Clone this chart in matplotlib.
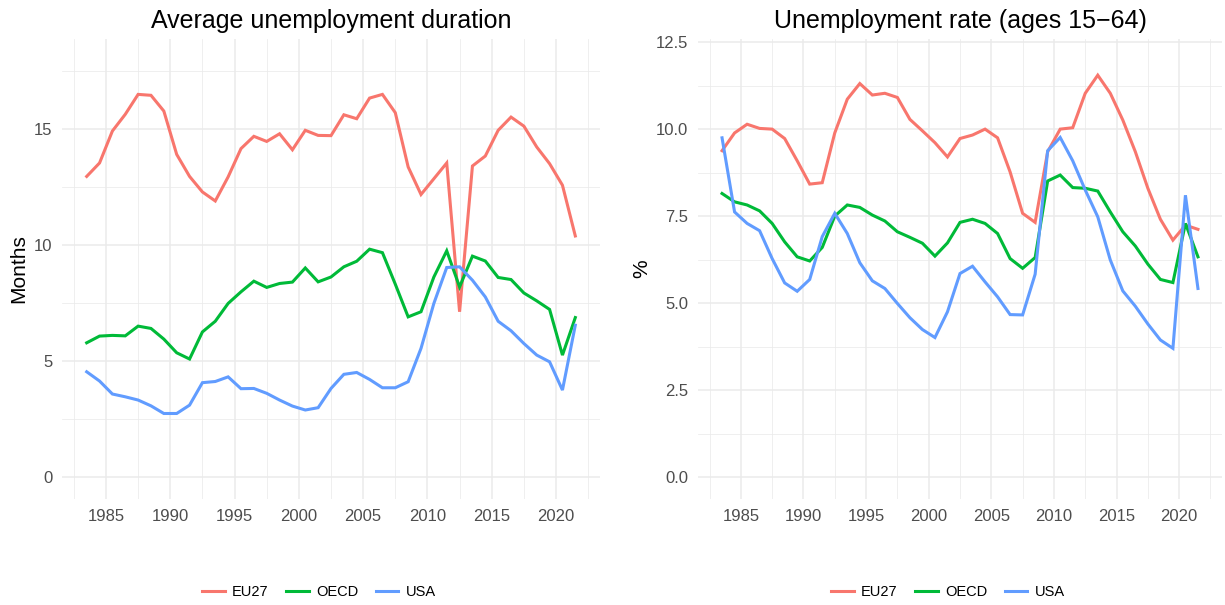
"""
Unemployment duration and rate: EU27 vs OECD vs USA
"""
import matplotlib
matplotlib.use('Agg')
import matplotlib.pyplot as plt
from matplotlib.ticker import MultipleLocator
from matplotlib.lines import Line2D

plt.rcParams['font.family'] = ['Liberation Sans', 'DejaVu Sans']

# Years (points are drawn at mid-year)
years = list(range(1983, 2022))

# Average unemployment duration, months
dur_eu27 = [12.97, 13.55, 14.93, 15.65, 16.51, 16.47, 15.79, 13.92, 12.97, 12.30,
            11.91, 12.95, 14.17, 14.70, 14.48, 14.81, 14.12, 14.96, 14.74, 14.73,
            15.63, 15.46, 16.35, 16.51, 15.72, 13.38, 12.19, 12.87, 13.55, 7.13,
            13.42, 13.85, 14.96, 15.53, 15.14, 14.24, 13.52, 12.59, 10.40]
dur_oecd = [5.79, 6.08, 6.11, 6.09, 6.51, 6.41, 5.95, 5.36, 5.09, 6.26,
            6.72, 7.49, 7.99, 8.45, 8.18, 8.35, 8.41, 9.02, 8.42, 8.63,
            9.07, 9.31, 9.83, 9.68, 8.32, 6.91, 7.13, 8.63, 9.76, 8.20,
            9.53, 9.32, 8.61, 8.52, 7.94, 7.60, 7.23, 5.26, 6.88]
dur_usa = [4.54, 4.14, 3.58, 3.46, 3.32, 3.07, 2.74, 2.74, 3.10, 4.07,
           4.12, 4.32, 3.81, 3.82, 3.61, 3.32, 3.06, 2.89, 2.99, 3.82,
           4.43, 4.51, 4.21, 3.85, 3.85, 4.11, 5.55, 7.49, 9.04, 9.07,
           8.49, 7.77, 6.72, 6.31, 5.76, 5.26, 4.97, 3.75, 6.55]

# Unemployment rate (ages 15-64), %
rate_eu27 = [9.38, 9.89, 10.14, 10.02, 10.00, 9.73, 9.09, 8.42, 8.46, 9.89,
             10.86, 11.31, 10.98, 11.03, 10.91, 10.28, 9.95, 9.61, 9.20, 9.73,
             9.83, 10.00, 9.75, 8.77, 7.58, 7.32, 9.35, 10.00, 10.04, 11.03,
             11.55, 11.03, 10.26, 9.35, 8.30, 7.41, 6.81, 7.24, 7.12]
rate_oecd = [8.15, 7.91, 7.82, 7.65, 7.29, 6.76, 6.33, 6.21, 6.60, 7.50,
             7.82, 7.75, 7.53, 7.36, 7.05, 6.89, 6.72, 6.35, 6.73, 7.32,
             7.41, 7.29, 7.00, 6.28, 6.00, 6.31, 8.51, 8.68, 8.32, 8.30,
             8.22, 7.62, 7.05, 6.64, 6.12, 5.68, 5.59, 7.29, 6.33]
rate_usa = [9.75, 7.62, 7.29, 7.08, 6.28, 5.58, 5.34, 5.68, 6.91, 7.58,
            7.00, 6.16, 5.64, 5.42, 4.99, 4.58, 4.24, 4.01, 4.75, 5.85,
            6.06, 5.61, 5.18, 4.67, 4.66, 5.83, 9.38, 9.76, 9.09, 8.25,
            7.48, 6.24, 5.35, 4.91, 4.40, 3.94, 3.70, 8.10, 5.42]

series_names = ['EU27', 'OECD', 'USA']
colors = ['#F8766D', '#00BA38', '#619CFF']

W, H = 1225, 605
fig = plt.figure(figsize=(W / 100, H / 100), dpi=100)


def px_axes(x0, y0, x1, y1):
    return fig.add_axes([x0 / W, 1 - y1 / H, (x1 - x0) / W, (y1 - y0) / H])


def style_axes(ax, ymajor, yminor, ylim, fmt):
    ax.set_facecolor('white')
    for s in ax.spines.values():
        s.set_visible(False)
    ax.set_xlim(1981.58, 2023.42)
    ax.set_ylim(*ylim)
    ax.xaxis.set_major_locator(MultipleLocator(5))
    ax.xaxis.set_minor_locator(MultipleLocator(2.5))
    ax.yaxis.set_major_locator(MultipleLocator(ymajor))
    ax.yaxis.set_minor_locator(MultipleLocator(yminor))
    ax.yaxis.set_major_formatter(fmt)
    ax.grid(True, which='major', color='#EBEBEB', linewidth=1.1)
    ax.grid(True, which='minor', color='#EBEBEB', linewidth=0.55)
    ax.set_axisbelow(True)
    ax.tick_params(which='both', length=0, labelsize=12, labelcolor='#4D4D4D', pad=7)


xs = [y + 0.5 for y in years]

# Left panel
ax1 = px_axes(62, 39, 600, 499)
for vals, c in zip([dur_eu27, dur_oecd, dur_usa], colors):
    ax1.plot(xs, vals, color=c, linewidth=2.2, solid_joinstyle='miter')
style_axes(ax1, 5, 2.5, (-0.95, 18.9), lambda v, p: f'{v:.0f}')
ax1.set_title('Average unemployment duration', fontsize=18, pad=8)
ax1.set_ylabel('Months', fontsize=15, labelpad=4)

# Right panel
ax2 = px_axes(698, 39, 1222, 499)
for vals, c in zip([rate_eu27, rate_oecd, rate_usa], colors):
    ax2.plot(xs, vals, color=c, linewidth=2.2, solid_joinstyle='miter')
style_axes(ax2, 2.5, 1.25, (-0.63, 12.59), lambda v, p: f'{v:.1f}')
ax2.set_title('Unemployment rate (ages 15\u221264)', fontsize=18, pad=8)
ax2.set_ylabel('%', fontsize=15, labelpad=3)

# Legends under each panel
handles = [Line2D([], [], color=c, linewidth=2.2) for c in colors]
for cx in (319, 948):
    fig.legend(handles, series_names, loc='center', ncol=3, frameon=False,
               bbox_to_anchor=(cx / W, 1 - 592 / H), fontsize=10.5,
               handlelength=1.55, handletextpad=0.5, columnspacing=1.2)

plt.savefig('out.png', dpi=100)
